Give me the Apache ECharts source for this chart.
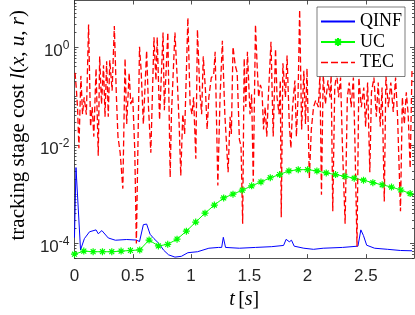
<!DOCTYPE html>
<html><head><meta charset="utf-8">
<script src="https://cdn.jsdelivr.net/npm/echarts@6/dist/echarts.min.js"></script>
<style>html,body{margin:0;padding:0;background:#fff}#c{width:415px;height:315px}</style>
</head><body><div id="c"></div>
<script>
// ---- data (time in s, stage cost values) ----
const xTicks = [0, 0.5, 1, 1.5, 2, 2.5];
const yTickExps = [-4, -2, 0];
const seriesNames = ['QINF', 'UC', 'TEC'];

const qinfT = [0, 0.013, 0.052, 0.085, 0.129, 0.185, 0.204, 0.235, 0.29, 0.351, 0.448, 0.531, 0.558, 0.591, 0.619, 0.649, 0.682, 0.724, 0.765, 0.807, 0.862, 0.917, 0.973, 1.056, 1.153, 1.235, 1.263, 1.277, 1.296, 1.415, 1.553, 1.692, 1.794, 1.816, 1.843, 1.862, 1.885, 1.968, 2.051, 2.134, 2.300, 2.432, 2.457, 2.479, 2.507, 2.575, 2.687, 2.797, 2.896];
const qinfV = [1.3e-4, 3.5e-3, 7.3e-5, 1.24e-4, 1.71e-4, 1.87e-4, 1.56e-4, 1.81e-4, 1.28e-4, 1.15e-4, 1.19e-4, 1.16e-4, 1.08e-4, 2.39e-4, 2.46e-4, 1.52e-4, 1.24e-4, 9.9e-5, 7.2e-5, 5.8e-5, 5.2e-5, 5.4e-5, 6.4e-5, 6.7e-5, 7.9e-5, 8.2e-5, 8.2e-5, 1.32e-4, 8.2e-5, 7.9e-5, 8.2e-5, 8.5e-5, 9.0e-5, 1.20e-4, 1.07e-4, 1.15e-4, 8.7e-5, 7.9e-5, 7.5e-5, 7.9e-5, 8.2e-5, 8.7e-5, 1.87e-4, 1.44e-4, 9.1e-5, 7.9e-5, 7.5e-5, 7.1e-5, 7.0e-5];

const ucT = [0, 0.08, 0.16, 0.24, 0.32, 0.40, 0.48, 0.56, 0.64, 0.72, 0.80, 0.88, 0.96, 1.04, 1.12, 1.20, 1.28, 1.36, 1.44, 1.52, 1.60, 1.68, 1.76, 1.84, 1.92, 2.00, 2.08, 2.16, 2.24, 2.32, 2.40, 2.48, 2.56, 2.64, 2.72, 2.80, 2.88];
const ucV = [5.96e-5, 6.9e-5, 6.7e-5, 6.7e-5, 6.7e-5, 6.9e-5, 7.1e-5, 7.3e-5, 1.16e-4, 8.8e-5, 9.5e-5, 1.21e-4, 1.76e-4, 2.70e-4, 4.1e-4, 6.0e-4, 8.4e-4, 1.0e-3, 1.21e-3, 1.48e-3, 1.78e-3, 2.17e-3, 2.52e-3, 2.99e-3, 3.16e-3, 3.17e-3, 2.99e-3, 2.72e-3, 2.52e-3, 2.32e-3, 2.12e-3, 1.93e-3, 1.72e-3, 1.56e-3, 1.40e-3, 1.22e-3, 1.03e-3];

const tecT = [0.005,0.015,0.026,0.038,0.055,0.069,0.083,0.102,0.121,0.138,
0.152,0.166,0.185,0.204,0.216,0.232,0.249,0.262,0.276,0.290,
0.303,0.323,0.342,0.359,0.373,0.392,0.415,0.434,0.448,0.469,
0.483,0.500,0.517,0.531,0.558,0.572,0.591,0.619,0.635,0.655,
0.682,0.699,0.710,0.730,0.760,0.771,0.801,0.821,0.832,0.862,
0.881,0.898,0.912,0.929,0.945,0.973,0.992,1.008,1.022,1.041,
1.055,1.075,1.091,1.105,1.124,1.138,1.153,1.174,1.194,1.207,
1.230,1.249,1.269,1.290,1.318,1.335,1.346,1.360,1.379,1.396,
1.415,1.429,1.443,1.456,1.470,1.484,1.506,1.520,1.534,1.553,
1.567,1.580,1.595,1.609,1.622,1.636,1.650,1.663,1.686,1.705,
1.725,1.738,1.755,1.766,1.774,1.788,1.810,1.824,1.843,1.857,
1.871,1.891,1.904,1.918,1.932,1.949,1.968,1.982,1.995,2.015,
2.032,2.051,2.070,2.092,2.106,2.119,2.134,2.153,2.175,2.192,
2.202,2.216,2.233,2.250,2.266,2.283,2.299,2.322,2.341,2.357,
2.374,2.393,2.407,2.424,2.440,2.461,2.482,2.498,2.515,2.534,
2.548,2.569,2.590,2.606,2.623,2.639,2.658,2.672,2.693,2.714,
2.735,2.755,2.772,2.797,2.813,2.830,2.847,2.863,2.880,2.896];
const tecV = [0.30,0.15,0.060,0.0087,0.26,0.043,0.095,0.042,2.9,0.024,
0.060,0.015,0.37,0.0061,0.65,0.069,0.43,0.038,0.52,0.038,
0.54,0.13,2.7,0.109,0.015,0.0070,0.0013,0.59,0.027,0.30,
0.069,0.095,0.0084,0.000099,1.02,0.33,0.027,0.85,0.060,0.0070,
1.6,0.21,1.6,0.033,2.0,0.052,2.0,0.0022,0.043,2.0,
0.24,0.027,0.0024,0.043,0.017,4.0,0.069,0.043,0.095,0.0053,
2.3,0.13,0.043,0.65,0.13,0.021,0.095,0.24,0.27,0.81,
0.0015,0.095,1.35,0.043,0.0028,0.038,0.017,1.02,0.43,0.30,
0.013,0.0096,0.00025,0.59,0.060,0.81,0.043,0.109,0.0018,2.9,
0.43,0.095,0.17,0.13,0.021,0.060,0.015,0.095,1.29,0.015,
0.93,0.095,0.043,0.21,0.00034,0.47,0.095,0.68,0.027,0.0087,
0.060,0.21,0.015,0.095,5.8,0.021,0.33,0.027,0.37,0.0021,
0.021,0.060,0.083,0.060,0.27,0.00097,0.27,0.069,0.21,0.095,
0.27,0.00045,0.15,0.30,0.095,0.24,0.0096,0.00025,0.095,0.19,
0.060,0.24,0.0096,0.000086,0.24,0.060,0.15,0.024,0.19,0.0028,
0.12,0.24,0.038,0.19,0.024,0.15,0.00071,0.26,0.060,0.19,
0.048,0.24,0.038,0.00045,0.095,0.027,0.12,0.043,0.0034,0.37];

// ---- chart ----
const yMin = -4.304, yMax = 0.954, xMin = 0, xMax = 2.913;
const axisCol = '#262626';
const minorVals = [];
for (let e = -5; e <= 0; e++) {
  for (let k = 1; k <= 9; k++) {
    const v = e + Math.log10(k);
    if (k === 1 && yTickExps.indexOf(e) >= 0) continue;
    if (v > yMin && v < yMax) minorVals.push(v);
  }
}
const toLog = (ts, vs) => ts.map((t, i) => [t, Math.log10(vs[i])]);
const asterisk = 'path://M0,-1L0,1M-1,0L1,0M-0.7,-0.7L0.7,0.7M-0.7,0.7L0.7,-0.7';
const dashIcon = 'path://M0,0h7v1.4h-7zM10,0h7v1.4h-7zM20,0h7v1.4h-7zM30,0h4v1.4h-4z';

const tickStyle = {color: axisCol, width: 0.8};
const lineOpt = {show: true, onZero: false, lineStyle: {color: axisCol, width: 0.8}};
const baseY = {type: 'value', min: yMin, max: yMax, splitLine: {show: false}, axisLine: lineOpt};
const baseX = {type: 'value', min: xMin, max: xMax, splitLine: {show: false}, axisLine: lineOpt};

const chart = echarts.init(document.getElementById('c'), null, {renderer: 'canvas'});
chart.setOption({
  animation: false,
  backgroundColor: '#fff',
  grid: {left: 62.7, right: 1, top: 0.5, bottom: 50, containLabel: false},
  legend: {
    orient: 'vertical', left: 317, top: 7, padding: [5.5, 3, 5, 3],
    itemWidth: 34, itemHeight: 10, itemGap: 2.5,
    backgroundColor: '#fff', borderColor: axisCol, borderWidth: 0.6,
    textStyle: {fontFamily: 'Liberation Serif', fontSize: 18, color: '#000'},
    data: [
      {name: seriesNames[0], itemStyle: {opacity: 0}},
      {name: seriesNames[1]},
      {name: seriesNames[2], icon: dashIcon, itemStyle: {color: '#ff0000'}}
    ]
  },
  xAxis: [
    Object.assign({}, baseX, {position: 'bottom',
      axisTick: {show: true, inside: true, length: 4, customValues: xTicks, lineStyle: tickStyle},
      axisLabel: {customValues: xTicks, fontFamily: 'Liberation Sans', fontSize: 17, color: axisCol, margin: 10},
      name: '{i|t} {n|[}{i|s}{n|]}', nameLocation: 'middle', nameGap: 26,
      nameTextStyle: {rich: {
        i: {fontFamily: 'Liberation Serif', fontStyle: 'italic', fontSize: 20, color: '#000'},
        n: {fontFamily: 'Liberation Serif', fontSize: 20, color: '#000'}}}
    }),
    Object.assign({}, baseX, {position: 'top',
      axisTick: {show: true, inside: true, length: 4, customValues: xTicks, lineStyle: tickStyle},
      axisLabel: {show: false}})
  ],
  yAxis: [
    Object.assign({}, baseY, {position: 'left',
      axisTick: {show: true, inside: true, length: 4, customValues: yTickExps, lineStyle: tickStyle},
      axisLabel: {customValues: yTickExps, margin: 5,
        formatter: v => '{b|10}{s|' + Math.round(v) + '}',
        rich: {
          b: {fontFamily: 'Liberation Sans', fontSize: 17, color: axisCol, padding: [8, 0, 0, 0]},
          s: {fontFamily: 'Liberation Sans', fontSize: 12, color: axisCol, padding: [0, 0, 4, 0]}
        }},
      name: '{n|tracking stage cost }{i|l}{n|(}{i|x}{n|, }{i|u}{n|, }{i|r}{n|)}',
      nameLocation: 'middle', nameRotate: 90, nameGap: 41,
      nameTextStyle: {padding: [0, 0, 0, 8], rich: {
        i: {fontFamily: 'Liberation Serif', fontStyle: 'italic', fontSize: 21, color: '#000'},
        n: {fontFamily: 'Liberation Serif', fontSize: 21, color: '#000'}}}
    }),
    Object.assign({}, baseY, {position: 'right',
      axisTick: {show: true, inside: true, length: 4, customValues: yTickExps, lineStyle: tickStyle},
      axisLabel: {show: false}}),
    Object.assign({}, baseY, {position: 'left', axisLine: {show: false, onZero: false},
      axisTick: {show: true, inside: true, length: 2, customValues: minorVals, lineStyle: tickStyle},
      axisLabel: {show: false}}),
    Object.assign({}, baseY, {position: 'right', axisLine: {show: false, onZero: false},
      axisTick: {show: true, inside: true, length: 2, customValues: minorVals, lineStyle: tickStyle},
      axisLabel: {show: false}})
  ],
  series: [
    {name: seriesNames[0], type: 'line', data: toLog(qinfT, qinfV), showSymbol: false, symbol: 'none',
      itemStyle: {color: '#0000ff'}, lineStyle: {color: '#0000ff', width: 1}},
    {name: seriesNames[1], type: 'line', data: toLog(ucT, ucV), symbol: asterisk, symbolSize: 7,
      itemStyle: {color: '#00ff00', borderColor: '#00ff00', borderWidth: 1.2},
      lineStyle: {color: '#00ff00', width: 1}},
    {name: seriesNames[2], type: 'line', data: toLog(tecT, tecV), showSymbol: false, symbol: 'none',
      itemStyle: {color: '#ff0000'}, lineStyle: {color: '#ff0000', width: 1.3, type: [6, 3]}}
  ]
});
</script></body></html>
